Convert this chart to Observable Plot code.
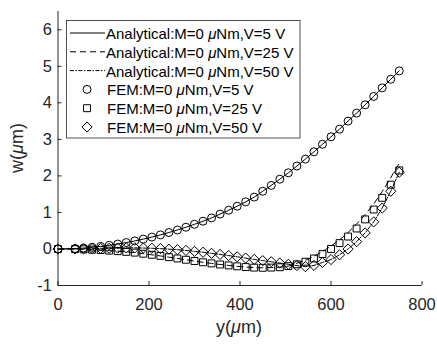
<!DOCTYPE html>
<html><head><meta charset="utf-8">
<script src="https://cdn.jsdelivr.net/npm/d3@7"></script>
<script src="https://cdn.jsdelivr.net/npm/@observablehq/plot@0.6"></script>
<style>body{margin:0;background:#fff;}</style>
</head><body><div id="chart"></div>
<script>
// Position along beam y (µm)
const yPos = [0, 37.5, 56.25, 75, 93.75, 112.5, 131.25, 150, 168.75, 187.5, 206.25, 225, 243.75, 262.5, 281.25, 300, 318.75, 337.5, 356.25, 375, 393.75, 412.5, 431.25, 450, 468.75, 487.5, 506.25, 525, 543.75, 562.5, 581.25, 600, 618.75, 637.5, 656.25, 675, 693.75, 712.5, 731.25, 750];
// FEM deflections w (µm)
const wFem5  = [0, 0.01, 0.025, 0.045, 0.07, 0.10, 0.135, 0.175, 0.22, 0.27, 0.325, 0.385, 0.45, 0.52, 0.595, 0.675, 0.76, 0.85, 0.955, 1.06, 1.17, 1.29, 1.42, 1.58, 1.74, 1.91, 2.085, 2.27, 2.46, 2.66, 2.865, 3.07, 3.28, 3.50, 3.72, 3.945, 4.175, 4.41, 4.645, 4.875];
const wFem25 = [0, -0.005, -0.01, -0.02, -0.03, -0.045, -0.06, -0.08, -0.10, -0.13, -0.16, -0.19, -0.225, -0.26, -0.295, -0.33, -0.365, -0.395, -0.425, -0.45, -0.475, -0.495, -0.51, -0.515, -0.51, -0.50, -0.47, -0.42, -0.35, -0.26, -0.14, 0.0, 0.16, 0.34, 0.56, 0.81, 1.08, 1.40, 1.76, 2.15];
const wFem50 = [0, 0.0, 0.005, 0.01, 0.015, 0.02, 0.025, 0.03, 0.03, 0.025, 0.02, 0.01, -0.005, -0.02, -0.04, -0.065, -0.09, -0.12, -0.15, -0.18, -0.215, -0.25, -0.285, -0.32, -0.35, -0.385, -0.42, -0.455, -0.485, -0.45, -0.37, -0.29, -0.16, 0.0, 0.2, 0.44, 0.74, 1.12, 1.58, 2.1];
// Analytical deflections w (µm)
const wAna5  = [0, 0.01, 0.025, 0.045, 0.07, 0.10, 0.135, 0.175, 0.22, 0.27, 0.325, 0.385, 0.45, 0.52, 0.595, 0.675, 0.76, 0.85, 0.955, 1.06, 1.17, 1.29, 1.42, 1.58, 1.74, 1.91, 2.085, 2.27, 2.46, 2.66, 2.865, 3.07, 3.28, 3.50, 3.72, 3.945, 4.175, 4.41, 4.645, 4.875];
const wAna25 = [0, -0.005, -0.01, -0.02, -0.03, -0.045, -0.06, -0.08, -0.10, -0.13, -0.16, -0.19, -0.225, -0.26, -0.295, -0.33, -0.365, -0.395, -0.425, -0.45, -0.475, -0.495, -0.51, -0.515, -0.51, -0.50, -0.47, -0.39, -0.31, -0.20, -0.07, 0.08, 0.25, 0.45, 0.68, 0.94, 1.23, 1.57, 1.95, 2.35];
const wAna50 = [0, 0.0, 0.005, 0.01, 0.015, 0.02, 0.025, 0.03, 0.03, 0.025, 0.02, 0.01, -0.005, -0.02, -0.04, -0.065, -0.09, -0.12, -0.15, -0.18, -0.215, -0.25, -0.285, -0.32, -0.35, -0.385, -0.42, -0.455, -0.485, -0.45, -0.37, -0.29, -0.16, 0.0, 0.2, 0.44, 0.74, 1.12, 1.58, 2.1];

const xTicks = [0, 200, 400, 600, 800];
const yTicks = [-1, 0, 1, 2, 3, 4, 5, 6];
const legendEntries = [
  {pre: "Analytical:M=0 ", post: "Nm,V=5 V", kind: "line", dash: null},
  {pre: "Analytical:M=0 ", post: "Nm,V=25 V", kind: "line", dash: "6,4"},
  {pre: "Analytical:M=0 ", post: "Nm,V=50 V", kind: "line", dash: "4,1.5,1.5,1.5"},
  {pre: "FEM:M=0 ", post: "Nm,V=5 V", kind: "dot", symbol: "circle", r: 4},
  {pre: "FEM:M=0 ", post: "Nm,V=25 V", kind: "dot", symbol: "square", r: 3.9},
  {pre: "FEM:M=0 ", post: "Nm,V=50 V", kind: "dot", symbol: "diamond2", r: 4.6}
];

const rows = ws => yPos.map((y, i) => ({y, w: ws[i]}));
const ink = "#262626";

const plot = Plot.plot({
  width: 437, height: 345,
  marginLeft: 57.5, marginRight: 15.5, marginTop: 11, marginBottom: 60,
  style: {fontFamily: "'Liberation Sans', Arial, sans-serif", fontSize: "16.5px", color: ink, background: "white", overflow: "visible"},
  x: {domain: [0, 800]},
  y: {domain: [-1, 6.5]},
  marks: [
    Plot.line(rows(wAna5), {x: "y", y: "w", stroke: "black", strokeWidth: 1}),
    Plot.line(rows(wAna25), {x: "y", y: "w", stroke: "black", strokeWidth: 1, strokeDasharray: "6,4"}),
    Plot.line(rows(wAna50), {x: "y", y: "w", stroke: "black", strokeWidth: 1, strokeDasharray: "4,1.5,1.5,1.5"}),
    Plot.dot(rows(wFem5), {x: "y", y: "w", symbol: "circle", r: 4, stroke: "black", fill: "none", strokeWidth: 1}),
    Plot.dot(rows(wFem25), {x: "y", y: "w", symbol: "square", r: 3.9, stroke: "black", fill: "none", strokeWidth: 1}),
    Plot.dot(rows(wFem50), {x: "y", y: "w", symbol: "diamond2", r: 4.6, stroke: "black", fill: "none", strokeWidth: 1}),
    Plot.ruleX([0], {stroke: ink, strokeWidth: 1}),
    Plot.ruleY([-1], {stroke: ink, strokeWidth: 1}),
    Plot.axisX({ticks: xTicks, tickSize: -4, tickPadding: 17, label: null, stroke: ink, fill: ink, tickFormat: d => String(d)}),
    Plot.axisY({ticks: yTicks, tickSize: -4, tickPadding: 10, label: null, stroke: ink, fill: ink, tickFormat: d => String(d)})
  ]
});
document.getElementById("chart").appendChild(plot);

const svg = d3.select(plot);
const font = "'Liberation Sans', Arial, sans-serif";
// axis labels
const xl = svg.append("text").attr("x", 239).attr("y", 327).attr("text-anchor", "middle")
  .attr("dominant-baseline", "central").attr("font-family", font).attr("font-size", 18).attr("fill", ink);
xl.append("tspan").text("y(");
xl.append("tspan").attr("font-style", "italic").text("μ");
xl.append("tspan").text("m)");
const yl = svg.append("text").attr("transform", "translate(17,148) rotate(-90)").attr("text-anchor", "middle")
  .attr("dominant-baseline", "central").attr("font-family", font).attr("font-size", 18).attr("fill", ink);
yl.append("tspan").text("w(");
yl.append("tspan").attr("font-style", "italic").text("μ");
yl.append("tspan").text("m)");

// legend
const lg = svg.append("g");
lg.append("rect").attr("x", 66.5).attr("y", 20.5).attr("width", 233.5).attr("height", 117.5)
  .attr("fill", "white").attr("stroke", ink).attr("stroke-width", 0.8);
const symMap = {circle: d3.symbolCircle, square: d3.symbolSquare, diamond2: d3.symbolDiamond2};
legendEntries.forEach((e, i) => {
  const yy = 33 + i * 18.8;
  if (e.kind === "line") {
    const l = lg.append("line").attr("x1", 70).attr("x2", 105).attr("y1", yy).attr("y2", yy)
      .attr("stroke", "black").attr("stroke-width", 1);
    if (e.dash) l.attr("stroke-dasharray", e.dash);
  } else {
    lg.append("path").attr("d", d3.symbol(symMap[e.symbol], Math.PI * e.r * e.r)())
      .attr("transform", `translate(87,${yy})`).attr("fill", "none").attr("stroke", "black").attr("stroke-width", 1);
  }
  const t = lg.append("text").attr("x", e.kind === "line" ? 106 : 107).attr("y", yy).attr("text-anchor", "start")
    .attr("dominant-baseline", "central").attr("font-family", font).attr("font-size", 15).attr("fill", "black");
  t.append("tspan").text(e.pre);
  t.append("tspan").attr("font-style", "italic").text("μ");
  t.append("tspan").text(e.post);
});
</script>
</body></html>
